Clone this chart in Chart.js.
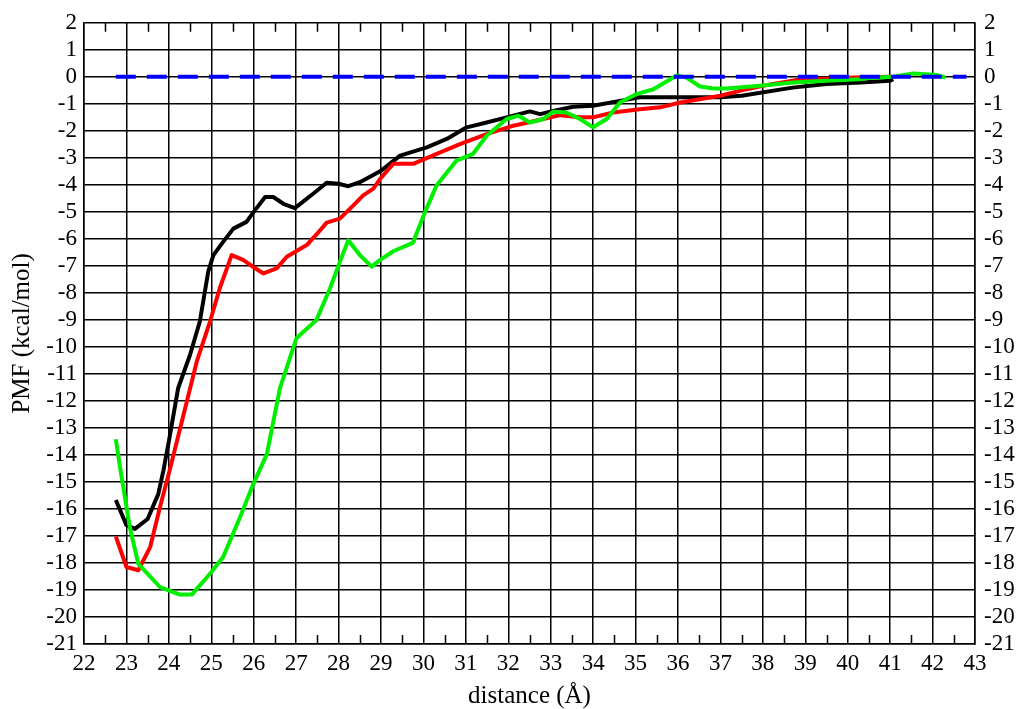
<!DOCTYPE html>
<html>
<head>
<meta charset="utf-8">
<title>PMF vs distance</title>
<script src="https://cdn.jsdelivr.net/npm/chart.js@4.4.0/dist/chart.umd.min.js"></script>
<style>
  html, body { margin: 0; padding: 0; background: #fff; }
  #wrap { width: 1021px; height: 709px; }
</style>
</head>
<body>
<div id="wrap"><canvas id="pmfChart" width="1021" height="709"></canvas></div>
<script>
// black curve
const blackX = [22.75, 23.0, 23.2, 23.5, 23.75, 23.87, 24.0, 24.22, 24.5, 24.73, 24.93, 25.05, 25.28, 25.52, 25.83, 26.0, 26.27, 26.46, 26.7, 26.97, 27.4, 27.72, 28.0, 28.23, 28.5, 28.98, 29.45, 30.08, 30.55, 31.02, 31.49, 31.96, 32.51, 32.75, 33.06, 33.53, 34.0, 34.63, 35.1, 36.0, 37.0, 37.5, 38.7, 39.5, 40.3, 41.0, 41.07];
const blackY = [-15.67, -16.6, -16.74, -16.37, -15.45, -14.59, -13.5, -11.52, -10.29, -9.06, -7.2, -6.6, -6.11, -5.62, -5.37, -5.0, -4.45, -4.45, -4.7, -4.86, -4.33, -3.92, -3.96, -4.05, -3.9, -3.5, -2.92, -2.61, -2.3, -1.87, -1.69, -1.5, -1.28, -1.38, -1.26, -1.11, -1.07, -0.89, -0.76, -0.76, -0.76, -0.7, -0.4, -0.27, -0.21, -0.15, -0.09];

// red curve
const redX = [22.75, 23.0, 23.28, 23.56, 23.79, 24.03, 24.66, 24.97, 25.2, 25.48, 25.75, 26.0, 26.23, 26.54, 26.78, 27.25, 27.5, 27.72, 28.03, 28.35, 28.58, 28.82, 28.98, 29.29, 29.76, 30.23, 30.86, 31.49, 32.12, 32.75, 33.22, 33.69, 34.0, 34.47, 35.1, 35.58, 36.05, 37.0, 37.5, 38.0, 38.8, 39.9, 41.0];
const redY = [-17.02, -18.15, -18.27, -17.41, -15.94, -14.5, -10.53, -9.06, -7.83, -6.6, -6.78, -7.05, -7.28, -7.09, -6.66, -6.23, -5.8, -5.4, -5.25, -4.76, -4.39, -4.14, -3.78, -3.22, -3.22, -2.91, -2.49, -2.12, -1.81, -1.59, -1.42, -1.5, -1.5, -1.32, -1.2, -1.13, -0.95, -0.7, -0.5, -0.33, -0.12, -0.03, 0.0];

// green curve
const greenX = [22.75, 22.85, 23.08, 23.28, 23.79, 24.26, 24.54, 24.97, 25.28, 25.68, 25.99, 26.31, 26.62, 27.01, 27.48, 27.8, 28.03, 28.23, 28.5, 28.78, 28.98, 29.3, 29.75, 30.04, 30.31, 30.78, 31.17, 31.49, 31.96, 32.24, 32.51, 32.83, 33.06, 33.37, 33.69, 34.0, 34.32, 34.63, 35.02, 35.42, 35.97, 36.2, 36.52, 36.83, 37.15, 37.93, 38.72, 39.5, 40.29, 40.6, 41.07, 41.55, 42.1, 42.3];
const greenY = [-13.42, -14.46, -16.68, -18.03, -18.89, -19.17, -19.17, -18.4, -17.78, -16.3, -15.08, -13.97, -11.52, -9.67, -9.0, -7.83, -6.85, -6.05, -6.6, -7.03, -6.78, -6.45, -6.15, -5.0, -4.02, -3.1, -2.85, -2.18, -1.56, -1.44, -1.69, -1.56, -1.29, -1.32, -1.56, -1.87, -1.56, -0.95, -0.64, -0.46, 0.05, -0.03, -0.36, -0.43, -0.43, -0.33, -0.21, -0.15, -0.09, -0.03, 0.0, 0.12, 0.07, -0.03];

// zero reference line
const zeroX = [22.75, 42.8];
const zeroY = [0, 0];

// axis ranges
const xMin = 22, xMax = 43;
const yMin = -21, yMax = 2;

const toPoints = (xs, ys) => xs.map((x, i) => ({ x: x, y: ys[i] }));

const serif = "'Liberation Serif', 'DejaVu Serif', serif";

// small half-unit ticks along top and bottom edges
const minorTicks = {
  id: 'minorTicks',
  beforeDatasetsDraw(chart) {
    const ctx = chart.ctx;
    const xs = chart.scales.x;
    const area = chart.chartArea;
    ctx.save();
    ctx.strokeStyle = '#000';
    ctx.lineWidth = 1.5;
    for (let v = xMin + 0.5; v < xMax; v += 1) {
      const px = Math.round(xs.getPixelForValue(v)) + 0.5;
      ctx.beginPath();
      ctx.moveTo(px, area.top);
      ctx.lineTo(px, area.top + 9);
      ctx.moveTo(px, area.bottom);
      ctx.lineTo(px, area.bottom - 9);
      ctx.stroke();
    }
    ctx.restore();
  }
};

// first dataset ends up on top, so: blue dashes, green, red, black
const ctx = document.getElementById('pmfChart').getContext('2d');
const pmfChart = new Chart(ctx, {
  type: 'line',
  data: {
    datasets: [
      {
        label: 'zero',
        data: toPoints(zeroX, zeroY),
        borderColor: '#0000ff',
        borderWidth: 4,
        borderDash: [20, 11],
        pointRadius: 0
      },
      {
        label: 'green',
        data: toPoints(greenX, greenY),
        borderColor: '#00ee00',
        borderWidth: 4,
        pointRadius: 0
      },
      {
        label: 'red',
        data: toPoints(redX, redY),
        borderColor: '#ff0000',
        borderWidth: 4,
        pointRadius: 0
      },
      {
        label: 'black',
        data: toPoints(blackX, blackY),
        borderColor: '#000000',
        borderWidth: 4,
        pointRadius: 0
      }
    ]
  },
  options: {
    responsive: false,
    animation: false,
    events: [],
    layout: { padding: { top: 20, left: 0, right: 0, bottom: 0 } },
    elements: { line: { tension: 0, borderCapStyle: 'butt', borderJoinStyle: 'round' } },
    plugins: {
      legend: { display: false },
      tooltip: { enabled: false }
    },
    scales: {
      x: {
        type: 'linear',
        min: xMin,
        max: xMax,
        afterFit: (s) => { s.height = 65; },
        grid: { color: '#000', lineWidth: 1.5, drawTicks: false },
        border: { display: true, color: '#000', width: 1.5 },
        ticks: {
          stepSize: 1,
          autoSkip: false,
          padding: 6,
          color: '#000',
          font: { family: serif, size: 23 },
          maxRotation: 0
        },
        title: {
          display: true,
          text: 'distance (Å)',
          color: '#000',
          font: { family: serif, size: 25, lineHeight: 1.0 },
          padding: { top: 0, bottom: 0 }
        }
      },
      y: {
        type: 'linear',
        position: 'left',
        min: yMin,
        max: yMax,
        afterFit: (s) => { s.width = 84; },
        grid: { color: '#000', lineWidth: 1.5, drawTicks: false },
        border: { display: true, color: '#000', width: 1.5 },
        ticks: {
          stepSize: 1,
          autoSkip: false,
          padding: 7,
          color: '#000',
          font: { family: serif, size: 23 }
        },
        title: {
          display: true,
          text: 'PMF (kcal/mol)',
          color: '#000',
          font: { family: serif, size: 25, lineHeight: 1.0 },
          padding: { top: 10, bottom: 0 }
        }
      },
      y2: {
        type: 'linear',
        position: 'right',
        min: yMin,
        max: yMax,
        afterFit: (s) => { s.width = 46; },
        grid: { display: false, drawTicks: false },
        border: { display: true, color: '#000', width: 1.5 },
        ticks: {
          stepSize: 1,
          autoSkip: false,
          padding: 9,
          color: '#000',
          font: { family: serif, size: 23 }
        }
      }
    }
  },
  plugins: [minorTicks]
});
</script>
</body>
</html>
